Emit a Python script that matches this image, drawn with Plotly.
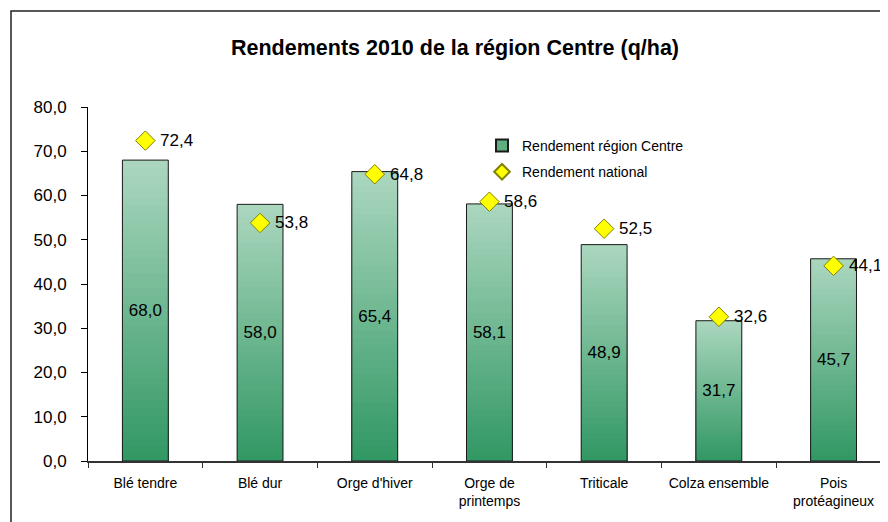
import plotly.graph_objects as go

categories = ["Blé tendre", "Blé dur", "Orge d'hiver", "Orge de<br>printemps",
              "Triticale", "Colza ensemble", "Pois<br>protéagineux"]
centre = [68.0, 58.0, 65.4, 58.1, 48.9, 31.7, 45.7]
national = [72.4, 53.8, 64.8, 58.6, 52.5, 32.6, 44.1]
y_ticks = [0, 10, 20, 30, 40, 50, 60, 70, 80]

FONT = "Liberation Sans, Arial, sans-serif"
top_rgb = (170, 214, 190)
bot_rgb = (50, 152, 100)
N = 40
BAR_W = 0.4

# page body has an 8px margin; the figure is sized/offset to compensate
OFF = 8
W, H = 888 - OFF, 522 - OFF
L, T, B = 88 - OFF, 107 - OFF, 61
PW, PH = W - L, H - T - B


def px_x(x):  # absolute page x -> paper x
    return (x - OFF - L) / PW


def px_y(y):  # absolute page y -> paper y
    return (H - B - (y - OFF)) / PH


fig = go.Figure()

# gradient bars: layered bars of decreasing height, light at top, dark at bottom
for k in range(N):
    frac = (N - k) / N
    t = k / (N - 1)
    c = tuple(round(top_rgb[i] + (bot_rgb[i] - top_rgb[i]) * t) for i in range(3))
    fig.add_trace(go.Bar(
        x=categories, y=[v * frac for v in centre], width=BAR_W,
        marker=dict(color="rgb(%d,%d,%d)" % c, line=dict(width=0)),
        showlegend=False, hoverinfo="skip"))

# outline + value labels
fig.add_trace(go.Bar(
    x=categories, y=centre, width=BAR_W,
    marker=dict(color="rgba(0,0,0,0)", line=dict(color="#1a1a1a", width=1)),
    texttemplate="%{y:.1f}", textposition="inside", insidetextanchor="middle",
    textangle=0, constraintext="none",
    textfont=dict(family=FONT, size=17, color="#000000"),
    showlegend=False, name="Rendement région Centre"))

# legend entry for the bars
fig.add_trace(go.Scatter(
    x=[None], y=[None], mode="markers", name="Rendement région Centre",
    marker=dict(symbol="square", size=9, color="#5fae80",
                line=dict(color="#1a1a1a", width=1)),
    legendgroup="a"))

fig.add_trace(go.Scatter(
    x=categories, y=national, mode="markers", name="Rendement national",
    marker=dict(symbol="diamond", size=15, color="#ffff00",
                line=dict(color="#808000", width=1)),
    cliponaxis=False, legendgroup="b"))

for cat, v in zip(categories, national):
    fig.add_annotation(x=cat, y=v, text=f"{v:.1f}".replace(".", ","),
                       xanchor="left", yanchor="middle", xshift=13,
                       showarrow=False,
                       font=dict(family=FONT, size=17, color="#000000"))

# chart frame
fig.add_shape(type="rect", xref="paper", yref="paper",
              x0=px_x(11), x1=1.2, y0=-0.5, y1=px_y(11),
              line=dict(color="#222222", width=1.5), fillcolor="rgba(0,0,0,0)",
              layer="below")

fig.update_layout(
    width=W, height=H,
    margin=dict(l=L, r=0, t=T, b=B, pad=0),
    paper_bgcolor="white", plot_bgcolor="white",
    barmode="overlay", separators=", ",
    font=dict(family=FONT, size=14, color="#000000"),
    title=dict(text="<b>Rendements 2010 de la région Centre (q/ha)</b>",
               x=(455 - OFF) / W, xref="container", xanchor="center",
               y=1 - (47 - OFF) / H, yref="container", yanchor="middle",
               font=dict(family=FONT, size=21.5, color="#000000")),
    legend=dict(x=px_x(482), y=px_y(130), xanchor="left", yanchor="top",
                bgcolor="rgba(0,0,0,0)", font=dict(family=FONT, size=14),
                tracegroupgap=5, itemwidth=30, itemsizing="constant"),
    showlegend=True,
)
fig.update_xaxes(
    type="category", range=[-0.5, -0.5 + PW / 114.7],
    showline=True, linecolor="#333333", linewidth=1.5,
    ticks="outside", tickson="boundaries", ticklen=5, tickcolor="#333333",
    showgrid=False, zeroline=False,
    tickfont=dict(family=FONT, size=14, color="#000000"), ticklabelstandoff=8)
fig.update_yaxes(
    range=[0, 80], tickvals=y_ticks, tickformat=".1f",
    showline=True, linecolor="#000000", linewidth=1,
    ticks="outside", ticklen=6, tickcolor="#000000",
    showgrid=False, zeroline=False,
    tickfont=dict(family=FONT, size=17, color="#000000"), ticklabelstandoff=11)

fig.write_html("out.html")
